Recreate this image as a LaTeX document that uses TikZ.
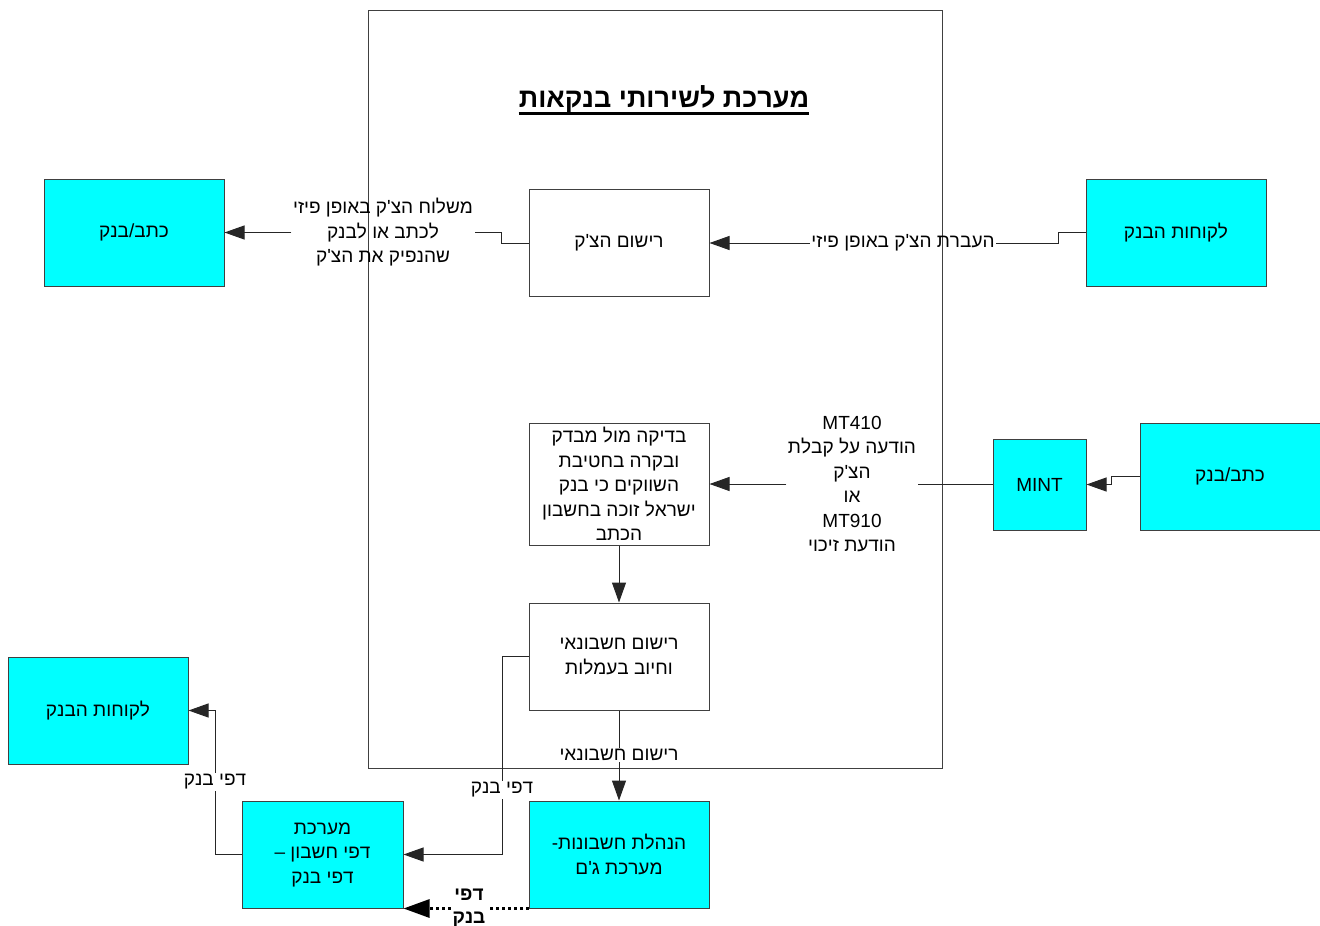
\documentclass[tikz,border=0pt]{standalone}
\usepackage{fontspec}
\setmainfont{Liberation Sans}[Ligatures=TeXOff]
\TeXXeTstate=1
\usetikzlibrary{arrows.meta}
\definecolor{cyanbox}{HTML}{00FFFF}
\definecolor{edge}{HTML}{404040}
% one right-to-left line of Hebrew
\newcommand{\rl}[1]{\beginR #1\endR}
\begin{document}
\begin{tikzpicture}[x=1pt,y=-1pt,
  every node/.style={font=\fontsize{19}{24.5}\selectfont},
  box/.style={draw=edge, line width=1pt, align=center, inner sep=0pt,
    minimum width=180pt, minimum height=107pt},
  wbox/.style={box, fill=white},
  cbox/.style={box, fill=cyanbox},
  lbl/.style={align=center, inner sep=1.5pt},
  conn/.style={draw=black!85, line width=1pt},
  arr/.style={conn, -{Triangle[length=20pt,width=14pt]}},
  dots/.style={draw=black, line width=3pt, dash pattern=on 3pt off 3pt},
  bigarr/.style={dots, -{Triangle[length=26pt,width=18pt]}},
]
\useasboundingbox (0,0) rectangle (1320,926);

% outer system frame and its title
\node[draw=edge, line width=1pt, minimum width=574pt, minimum height=758pt,
  inner sep=0pt] (sysframe) at (655,389) {};
\node[font=\fontsize{27}{30}\selectfont\bfseries, inner sep=0pt] (title)
  at (664,99) {\rl{מערכת לשירותי בנקאות}};
\draw[line width=2.6pt] ([yshift=-6pt]title.base west) -- ([yshift=-6pt]title.base east);

% process boxes inside the frame
\node[wbox] (reg) at (619,243) {\rl{רישום הצ'ק}};
\node[wbox, minimum height=122pt] (chk) at (619,484)
  {\rl{בדיקה מול מבדק}\\\rl{ובקרה בחטיבת}\\\rl{השווקים כי בנק}\\\rl{ישראל זוכה בחשבון}\\\rl{הכתב}};
\node[wbox] (acc) at (619,656.5) {\rl{רישום חשבונאי}\\\rl{וחיוב בעמלות}};

% external systems and parties
\node[cbox] (gl) at (619,854.5) {\rl{הנהלת חשבונות\kern0pt-}\\\rl{מערכת ג'ם}};
\node[cbox, minimum width=161pt] (sys) at (322.5,854.5)
  {\rl{מערכת}\\\rl{דפי חשבון –}\\\rl{דפי בנק}};
\node[cbox] (cl2) at (98,710.5) {\rl{לקוחות הבנק}};
\node[cbox] (cb1) at (134,232.5) {\rl{כתב/בנק}};
\node[cbox] (cl1) at (1176,232.5) {\rl{לקוחות הבנק}};
\node[cbox, minimum width=93pt, minimum height=91pt] (mint) at (1039.5,484.5) {MINT};
\node[cbox] (cb2) at (1230,476.5) {\rl{כתב/בנק}};

% connector labels
\node[lbl] (l1) at (903,243) {\rl{העברת הצ'ק באופן פיזי}};
\node[lbl] (l2) at (383,232.5)
  {\rl{משלוח הצ'ק באופן פיזי}\\\rl{לכתב או לבנק}\\\rl{שהנפיק את הצ'ק}};
\node[lbl] (l4) at (852,484)
  {MT410\\\rl{הודעה על קבלת}\\\rl{הצ'ק}\\\rl{או}\\MT910\\\rl{הודעת זיכוי}};
\node[lbl] (l6) at (619,755) {\rl{רישום חשבונאי}};
\node[lbl] (l7) at (502,790) {\rl{דפי בנק}};
\node[lbl] (l8) at (215,782) {\rl{דפי בנק}};
\node[lbl, font=\fontsize{19}{23}\selectfont\bfseries] (l9) at (469,908)
  {\rl{דפי}\\\rl{בנק}};

% connectors
\draw[conn] (cl1.west) -- ++(-27,0) |- (l1.east);
\draw[arr] (l1.west) -- (reg.east);
\draw[conn] (reg.west) -- ++(-27,0) |- (l2.east);
\draw[arr] (l2.west) -- (cb1.east);
\draw[arr] (cb2.west) -- ++(-28,0) |- (mint.east);
\draw[conn] (mint.west) -- ++(-27,0) |- (l4.east);
\draw[arr] (l4.west) -- (chk.east);
\draw[arr] (chk.south) -- (acc.north);
\draw[conn] (acc.south) -- (l6.north);
\draw[arr] (l6.south) -- (gl.north);
\draw[conn] (acc.west) -| (l7.north);
\draw[arr] (l7.south) |- (sys.east);
\draw[conn] (sys.west) -| (l8.south);
\draw[arr] (l8.north) |- (cl2.east);
\draw[dots] (gl.south west) -- (l9.east |- gl.south west);
\draw[bigarr] (l9.west |- gl.south west) -- (sys.south east);
\end{tikzpicture}
\end{document}
